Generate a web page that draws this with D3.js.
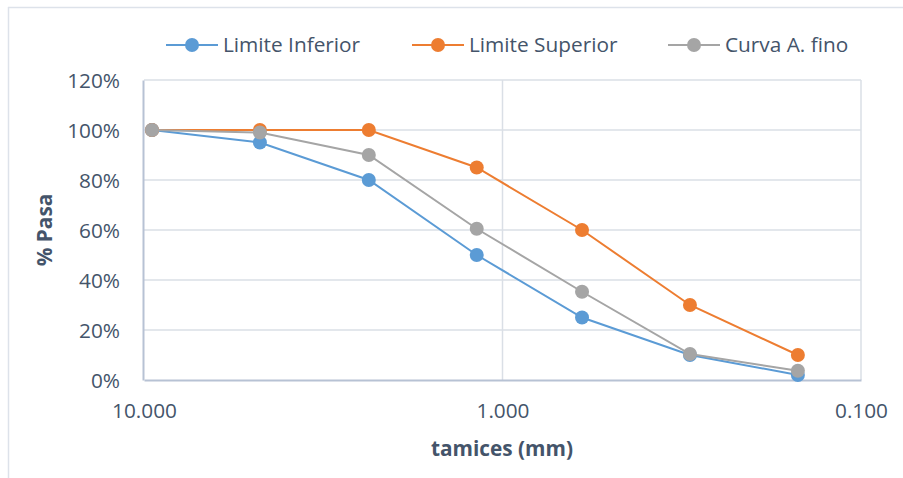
<!DOCTYPE html>
<html><head><meta charset="utf-8">
<script src="https://cdn.jsdelivr.net/npm/d3@7"></script>
<style>body{margin:0;background:#fff}svg{display:block}text{font-family:"Open Sans",sans-serif}</style>
</head><body>
<svg id="c" width="903" height="478"></svg>
<script>
const sieves = [9.5, 4.75, 2.36, 1.18, 0.6, 0.3, 0.15];
const seriesNames = ["Limite Inferior", "Limite Superior", "Curva A. fino"];
const limiteInferior = [1.00, 0.95, 0.80, 0.50, 0.25, 0.10, 0.02];
const limiteSuperior = [1.00, 1.00, 1.00, 0.85, 0.60, 0.30, 0.10];
const curvaFino = [1.00, 0.99, 0.90, 0.605, 0.353, 0.104, 0.037];
const xTicks = [10, 1, 0.1];
const yTicks = [0, 0.2, 0.4, 0.6, 0.8, 1.0, 1.2];
const colors = ["#5B9BD5", "#ED7D31", "#A5A5A5"];
const allSeries = [limiteInferior, limiteSuperior, curvaFino];
const textColor = "#44546A";
const fs = "20.8px";

const svg = d3.select("#c");
const x = d3.scaleLog().domain([10, 0.1]).range([144, 861]);
const y = d3.scaleLinear().domain([0, 1.2]).range([380, 80]);

// chart border (top + left only visible)
svg.append("line").attr("x1", 8).attr("x2", 903).attr("y1", 7.5).attr("y2", 7.5).attr("stroke", "#dde2ea").attr("stroke-width", 1.5);
svg.append("line").attr("x1", 8.5).attr("x2", 8.5).attr("y1", 7).attr("y2", 478).attr("stroke", "#dde2ea").attr("stroke-width", 1.5);

// gridlines
svg.append("g").selectAll("line").data(yTicks.filter(d => d > 0)).join("line")
  .attr("x1", 144).attr("x2", 861).attr("y1", d => y(d)).attr("y2", d => y(d))
  .attr("stroke", "#dadfe6").attr("stroke-width", 1.5);
svg.append("g").selectAll("line").data(xTicks.slice(1)).join("line")
  .attr("x1", d => x(d)).attr("x2", d => x(d)).attr("y1", 80).attr("y2", 380)
  .attr("stroke", "#dadfe6").attr("stroke-width", 1.5);

// axes
const yAxis = svg.append("g").attr("transform", "translate(143,0)")
  .call(d3.axisLeft(y).tickValues(yTicks).tickFormat(d3.format(".0%")).tickSize(0).tickPadding(23));
yAxis.select(".domain").attr("stroke", "#b7c2d4").attr("stroke-width", 2);
yAxis.selectAll("text").attr("fill", textColor).style("font-size", fs).attr("dy", "0.35em");

const xAxis = svg.append("g").attr("transform", "translate(0,380)")
  .call(d3.axisBottom(x).tickValues(xTicks).tickFormat(d3.format(".3f")).tickSize(0).tickPadding(23));
xAxis.select(".domain").attr("stroke", "#b7c2d4").attr("stroke-width", 2);
xAxis.selectAll("text").attr("fill", textColor).style("font-size", fs).attr("dy", "0.71em");

// axis titles
svg.append("text").attr("x", 502).attr("y", 456).attr("text-anchor", "middle")
  .attr("fill", textColor).style("font-size", fs).style("font-weight", "bold").text("tamices (mm)");
svg.append("text").attr("transform", "translate(52,230) rotate(-90)").attr("text-anchor", "middle")
  .attr("fill", textColor).style("font-size", fs).style("font-weight", "bold").text("% Pasa");

// series
const line = d3.line().x((d, i) => x(sieves[i])).y(d => y(d));
allSeries.forEach((s, k) => {
  const g = svg.append("g");
  g.append("path").datum(s).attr("d", line).attr("fill", "none").attr("stroke", colors[k]).attr("stroke-width", 2);
  g.selectAll("circle").data(s).join("circle")
    .attr("cx", (d, i) => x(sieves[i])).attr("cy", d => y(d)).attr("r", 7).attr("fill", colors[k]);
});

// legend
const legX = [166, 412, 668];
seriesNames.forEach((n, k) => {
  const g = svg.append("g").attr("transform", `translate(${legX[k]},45)`);
  g.append("line").attr("x1", 0).attr("x2", 52).attr("stroke", colors[k]).attr("stroke-width", 2);
  g.append("circle").attr("cx", 26).attr("r", 7).attr("fill", colors[k]);
  g.append("text").attr("x", 57).attr("dy", "0.35em").attr("fill", textColor).style("font-size", fs).text(n);
});
</script>
</body></html>
